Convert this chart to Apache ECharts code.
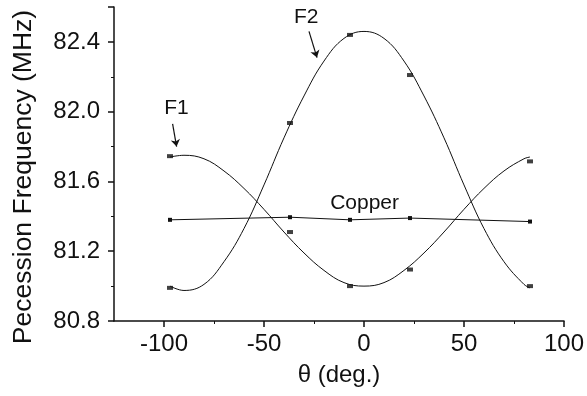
<!DOCTYPE html>
<html>
<head>
<meta charset="utf-8">
<script src="https://cdn.jsdelivr.net/npm/echarts@6/dist/echarts.min.js"></script>
<style>
  html, body { margin: 0; padding: 0; background: #fff; }
  #main { width: 587px; height: 396px; }
</style>
</head>
<body>
<div id="main"></div>
<script>
// measured angles (deg.)
var theta = [-97, -37, -7, 23, 83];
// precession frequency points (MHz)
var f1Points = [81.745, 81.31, 81.0, 81.095, 81.715];
var f2Points = [80.99, 81.935, 82.44, 82.21, 81.0];
var copperPoints = [81.38, 81.395, 81.38, 81.39, 81.37];

// fitted curves
var fitTheta = [-97, -90, -80, -70, -60, -50, -40, -30, -20, -10, 0, 10, 20, 30, 40, 50, 60, 70, 80, 83];
var f1Fit = [81.74, 81.75, 81.73, 81.66, 81.56, 81.44, 81.31, 81.19, 81.09, 81.02, 81.0, 81.02, 81.09, 81.19, 81.31, 81.44, 81.56, 81.66, 81.73, 81.74];
var f2Fit = [81.0, 80.975, 81.01, 81.14, 81.33, 81.58, 81.85, 82.09, 82.29, 82.42, 82.46, 82.42, 82.29, 82.09, 81.85, 81.58, 81.33, 81.14, 81.01, 80.99];

// axis ticks
var xTicks = [-100, -50, 0, 50, 100];
var xMinorTicks = [-75, -25, 25, 75];

var font = "'Liberation Sans', Arial, sans-serif";
var ink = '#111';

function pairs(xs, ys) {
  return xs.map(function (x, i) { return [x, ys[i]]; });
}

var myChart = echarts.init(document.getElementById('main'));

myChart.setOption({
  backgroundColor: '#fff',
  animation: false,
  grid: { left: 114, right: 22, top: 7, bottom: 75 },
  xAxis: [{
    type: 'value',
    min: -125,
    max: 100,
    name: 'θ (deg.)',
    nameLocation: 'middle',
    nameGap: 42,
    nameTextStyle: { fontFamily: font, fontSize: 24, color: ink },
    axisLine: { onZero: false, lineStyle: { color: ink, width: 1.5 } },
    axisTick: { customValues: xTicks, length: 6, lineStyle: { color: ink, width: 1.5 } },
    axisLabel: { customValues: xTicks, fontFamily: font, fontSize: 24, color: ink, margin: 11 },
    splitLine: { show: false }
  }, {
    type: 'value',
    min: -125,
    max: 100,
    position: 'bottom',
    axisLine: { show: false, onZero: false },
    axisTick: { customValues: xMinorTicks, length: 3, lineStyle: { color: ink, width: 1 } },
    axisLabel: { show: false },
    splitLine: { show: false }
  }],
  yAxis: {
    type: 'value',
    min: 80.8,
    max: 82.6,
    interval: 0.4,
    name: 'Pecession Frequency (MHz)',
    nameLocation: 'middle',
    nameGap: 77,
    nameTextStyle: { fontFamily: font, fontSize: 26.5, color: ink, padding: [0, 26, 0, 0] },
    axisLine: { show: true, onZero: false, lineStyle: { color: ink, width: 1.5 } },
    axisTick: { show: true, length: 6, lineStyle: { color: ink, width: 1.5 } },
    minorTick: { show: true, splitNumber: 2, length: 3, lineStyle: { color: ink, width: 1 } },
    axisLabel: {
      fontFamily: font, fontSize: 24, color: ink, margin: 14,
      showMaxLabel: false,
      formatter: function (v) { return v.toFixed(1); }
    },
    splitLine: { show: false }
  },
  series: [{
    name: 'F1 fit',
    type: 'line',
    smooth: 0.4,
    showSymbol: false,
    lineStyle: { color: ink, width: 1 },
    data: pairs(fitTheta, f1Fit)
  }, {
    name: 'F2 fit',
    type: 'line',
    smooth: 0.4,
    showSymbol: false,
    lineStyle: { color: ink, width: 1 },
    data: pairs(fitTheta, f2Fit)
  }, {
    name: 'F1',
    type: 'scatter',
    symbol: 'rect',
    symbolSize: [6, 4],
    itemStyle: { color: ink },
    data: pairs(theta, f1Points),
    markLine: {
      silent: true,
      symbol: ['none', 'arrow'],
      symbolSize: 7,
      lineStyle: { color: ink, width: 1.2, type: 'solid' },
      label: { show: false },
      data: [[{ coord: [-95.7, 81.93] }, { coord: [-93.7, 81.80] }]]
    },
    markPoint: {
      symbol: 'circle',
      symbolSize: 0,
      label: { show: true, formatter: 'F1', fontFamily: font, fontSize: 21, color: ink },
      data: [{ coord: [-93.8, 82.02] }]
    }
  }, {
    name: 'F2',
    type: 'scatter',
    symbol: 'rect',
    symbolSize: [6, 4],
    itemStyle: { color: ink },
    data: pairs(theta, f2Points),
    markLine: {
      silent: true,
      symbol: ['none', 'arrow'],
      symbolSize: 7,
      lineStyle: { color: ink, width: 1.2, type: 'solid' },
      label: { show: false },
      data: [[{ coord: [-27.5, 82.46] }, { coord: [-23.5, 82.31] }]]
    },
    markPoint: {
      symbol: 'circle',
      symbolSize: 0,
      label: { show: true, formatter: 'F2', fontFamily: font, fontSize: 21, color: ink },
      data: [{ coord: [-28.9, 82.54] }]
    }
  }, {
    name: 'Copper',
    type: 'line',
    symbol: 'rect',
    symbolSize: 4,
    showAllSymbol: true,
    lineStyle: { color: ink, width: 1 },
    itemStyle: { color: ink },
    data: pairs(theta, copperPoints),
    markPoint: {
      symbol: 'circle',
      symbolSize: 0,
      label: { show: true, formatter: 'Copper', fontFamily: font, fontSize: 21, color: ink },
      data: [{ coord: [0.3, 81.475] }]
    }
  }]
});
</script>
</body>
</html>
